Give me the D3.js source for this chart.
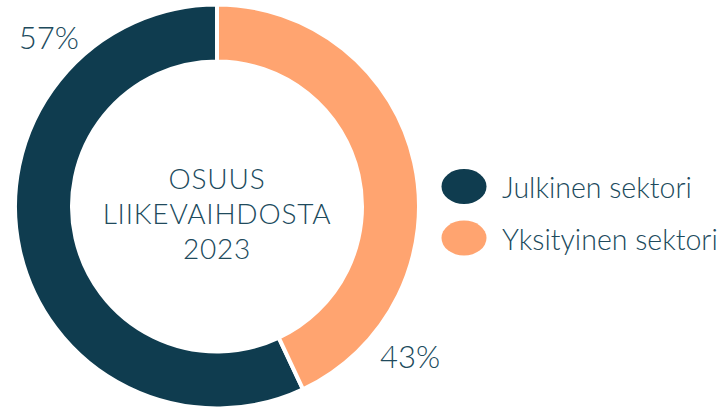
<!DOCTYPE html>
<html>
<head>
<meta charset="utf-8">
<script src="https://cdn.jsdelivr.net/npm/d3@7"></script>
<style>
  html, body { margin: 0; padding: 0; background: #fff; }
  svg { display: block; font-family: Lato, "Open Sans", sans-serif; }
</style>
</head>
<body>
<svg id="chart" width="725" height="411"></svg>
<script>
const categories = ["Julkinen sektori", "Yksityinen sektori"];
const values = [57, 43];
const valueLabels = ["57%", "43%"];
const colors = ["#0f3c4f", "#ffa470"];
const centerLines = ["OSUUS", "LIIKEVAIHDOSTA", "2023"];

const svg = d3.select("#chart");
const cx = 217, cy = 206.5, outerR = 202, innerR = 145;
const textColor = "#204a5c";

const total = d3.sum(values);
const pie = d3.pie().sort(null).value(d => d)
  .startAngle(-2 * Math.PI * values[0] / total)
  .endAngle(2 * Math.PI - 2 * Math.PI * values[0] / total);
const arc = d3.arc().innerRadius(innerR).outerRadius(outerR);

const g = svg.append("g").attr("transform", `translate(${cx},${cy})`);
g.selectAll("path.slice").data(pie(values)).join("path")
  .attr("class", "slice")
  .attr("d", arc)
  .attr("fill", (d, i) => colors[i])
  .attr("stroke", "#fff")
  .attr("stroke-width", 4)
  .attr("stroke-linejoin", "miter");

// Value labels placed outside the ring
const labelPos = [
  { angle: -44.7, dist: 239 },
  { angle: 127.7, dist: 244 }
];
g.selectAll("text.val").data(valueLabels).join("text")
  .attr("class", "val")
  .attr("x", (d, i) => labelPos[i].dist * Math.sin(labelPos[i].angle * Math.PI / 180))
  .attr("y", (d, i) => -labelPos[i].dist * Math.cos(labelPos[i].angle * Math.PI / 180))
  .attr("text-anchor", "middle")
  .attr("dominant-baseline", "central")
  .attr("font-size", 31)
  .attr("font-weight", 300)
  .attr("fill", textColor)
  .text(d => d);

// Center text
const lineH = 35;
g.selectAll("text.center").data(centerLines).join("text")
  .attr("class", "center")
  .attr("x", 0)
  .attr("y", (d, i) => (i - 1) * lineH + 17)
  .attr("text-anchor", "middle")
  .attr("font-size", 28)
  .attr("letter-spacing", 0.8)
  .attr("font-weight", 300)
  .attr("fill", textColor)
  .text(d => d);

// Legend
const legend = svg.append("g").attr("transform", "translate(464,186.5)");
const item = legend.selectAll("g").data(categories).join("g")
  .attr("transform", (d, i) => `translate(0,${i * 51.5})`);
item.append("ellipse")
  .attr("rx", 22.5).attr("ry", 17.5)
  .attr("fill", (d, i) => colors[i]);
item.append("text")
  .attr("x", 38)
  .attr("y", 11.5)
  .attr("font-size", 28.5)
  .attr("font-weight", 300)
  .attr("fill", textColor)
  .text(d => d);
</script>
</body>
</html>
